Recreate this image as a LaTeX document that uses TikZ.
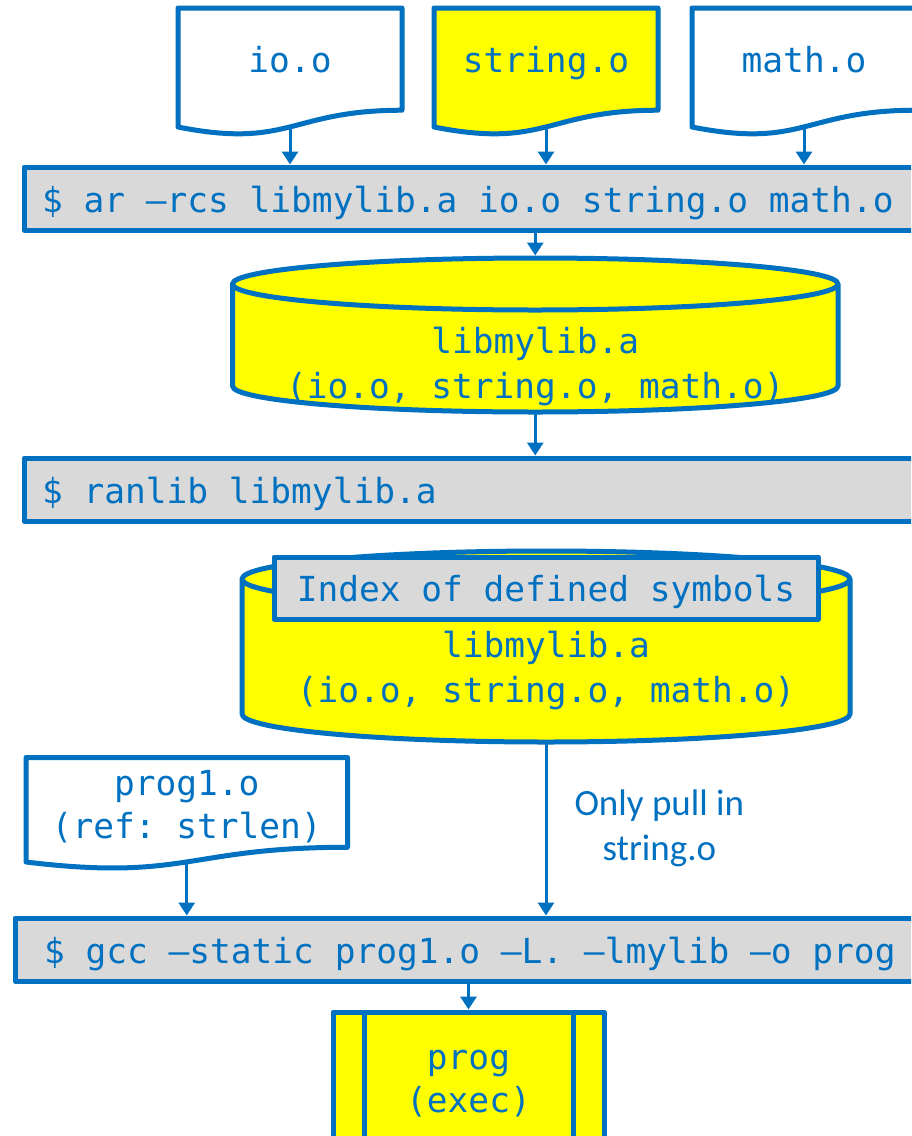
\documentclass[tikz,border=0pt]{standalone}
\usepackage{fontspec}
\setmonofont{DejaVu Sans Mono}
\newfontfamily\notefont{Carlito}
\usetikzlibrary{calc,arrows.meta,backgrounds}
\definecolor{pptblue}{HTML}{0070C0}
\definecolor{pptyellow}{HTML}{FFFF00}
\definecolor{pptgray}{HTML}{D9D9D9}
\tikzset{
  shapeline/.style={draw=pptblue,line width=5pt,line join=round},
  mono/.style={text=pptblue,font=\ttfamily\fontsize{34.5pt}{45pt}\selectfont},
  cmdbox/.style={mono,shapeline,fill=pptgray,anchor=north west,minimum height=63pt,
    text width=880pt,align=flush left,inner xsep=18pt,inner ysep=0pt,text height=30pt,text depth=3pt},
  docbox/.style={mono,anchor=north west,minimum width=224pt,minimum height=119pt,
    inner sep=0pt,outer sep=0pt,text height=16pt,text depth=7pt},
  cylbox/.style={mono,anchor=north west,inner sep=0pt,outer sep=0pt,align=flush center,text depth=0pt},
  note/.style={text=pptblue,font=\notefont\fontsize{37pt}{45pt}\selectfont,align=flush center,inner sep=0pt},
  arr/.style={draw=pptblue,line width=3pt,-{Triangle[width=16pt,length=13pt]}}
}
% document outline below a node
\newcommand\docshape[2]{%
  \filldraw[shapeline,fill=#2] (#1.north west) -- (#1.north east)
    -- ($(#1.north east)!0.859!(#1.south east)$)
    .. controls ($(#1.north)!0.859!(#1.south)$) and ($(#1.north)!1.186!(#1.south)$) .. (#1.south west)
    -- cycle;}
% cylinder outline round a node
\newcommand\cylshape[2]{%
  \filldraw[shapeline,fill=pptyellow] let \p1=(#1.north west), \p2=(#1.south east), \n1={(\x2-\x1)/2} in
    (\x1,\y1-#2) -- (\x1,\y2+#2) arc[start angle=180,end angle=360,x radius=\n1,y radius=#2]
    -- (\x2,\y1-#2) arc[start angle=0,end angle=180,x radius=\n1,y radius=#2] -- cycle
    (\x1,\y1-#2) arc[start angle=180,end angle=360,x radius=\n1,y radius=#2];}

\begin{document}
\begin{tikzpicture}[x=1pt,y=1pt]
  \useasboundingbox (0,0) rectangle (911,-1136);
  \clip (0,0) rectangle (911,-1136);

  \node (io) [docbox] at (178,-8) {io.o};
  \node (string) [docbox] at (434,-8) {string.o};
  \node (math) [docbox] at (692,-8) {math.o};
  \node (ar) [cmdbox] at (21.5,-164.5) {\$ ar –rcs libmylib.a io.o string.o math.o};
  \node (lib) [cylbox,text width=605.5pt,minimum height=154pt,text height=36pt] at (232.5,-258)
    {libmylib.a\\(io.o, string.o, math.o)};
  \node (ranlib) [cmdbox] at (21.5,-455.5) {\$ ranlib libmylib.a};
  \node (idxlib) [cylbox,text width=608pt,minimum height=191pt,text height=22pt] at (242,-551)
    {libmylib.a\\(io.o, string.o, math.o)};
  \node (index) [mono,shapeline,fill=pptgray,anchor=north west,minimum width=544pt,minimum height=62pt,
    inner sep=0pt,text height=30pt,text depth=3pt] at (271.5,-554.5) {Index of defined symbols};
  \node (prog1) [docbox,minimum width=321.5pt,minimum height=104.5pt,text width=300pt,align=flush center,
    font=\ttfamily\fontsize{34.5pt}{43pt}\selectfont,text height=0pt,text depth=29.5pt] at (26,-757.5)
    {prog1.o\\(ref: strlen)};
  \node (gcc) [cmdbox,inner xsep=29pt] at (12.5,-915.5) {\$ gcc –static prog1.o –L. –lmylib –o prog};
  \node (prog) [shapeline,fill=pptyellow,text=pptblue,anchor=north west,minimum width=271pt,
    minimum height=190pt,text width=200pt,align=flush center,inner sep=0pt,
    font=\ttfamily\fontsize{34.5pt}{43pt}\selectfont,text height=0pt,text depth=76pt] at (330.5,-1009.5)
    {prog\\(exec)};
  \draw[shapeline] ([xshift=33.5pt]prog.north west) -- ([xshift=33.5pt]prog.south west);
  \draw[shapeline] ([xshift=-33.5pt]prog.north east) -- ([xshift=-33.5pt]prog.south east);

  \begin{scope}[on background layer]
    \docshape{io}{white}
    \docshape{string}{pptyellow}
    \docshape{math}{white}
    \docshape{prog1}{white}
    \cylshape{lib}{26pt}
    \cylshape{idxlib}{28pt}
  \end{scope}

  \draw[arr] (io.south) -- (io.south |- ar.north);
  \draw[arr] (string.south) -- (string.south |- ar.north);
  \draw[arr] (math.south) -- (math.south |- ar.north);
  \draw[arr] (ar.south -| lib.north) -- ([yshift=2.5pt]lib.north);
  \draw[arr] (lib.south) -- (lib.south |- ranlib.north);
  \draw[arr] (idxlib.south) -- node[note,right=27pt] {Only pull in\\string.o} (idxlib.south |- gcc.north);
  \draw[arr] (prog1.south) -- (prog1.south |- gcc.north);
  \draw[arr] (gcc.south -| prog.north) -- (prog.north);
\end{tikzpicture}
\end{document}
